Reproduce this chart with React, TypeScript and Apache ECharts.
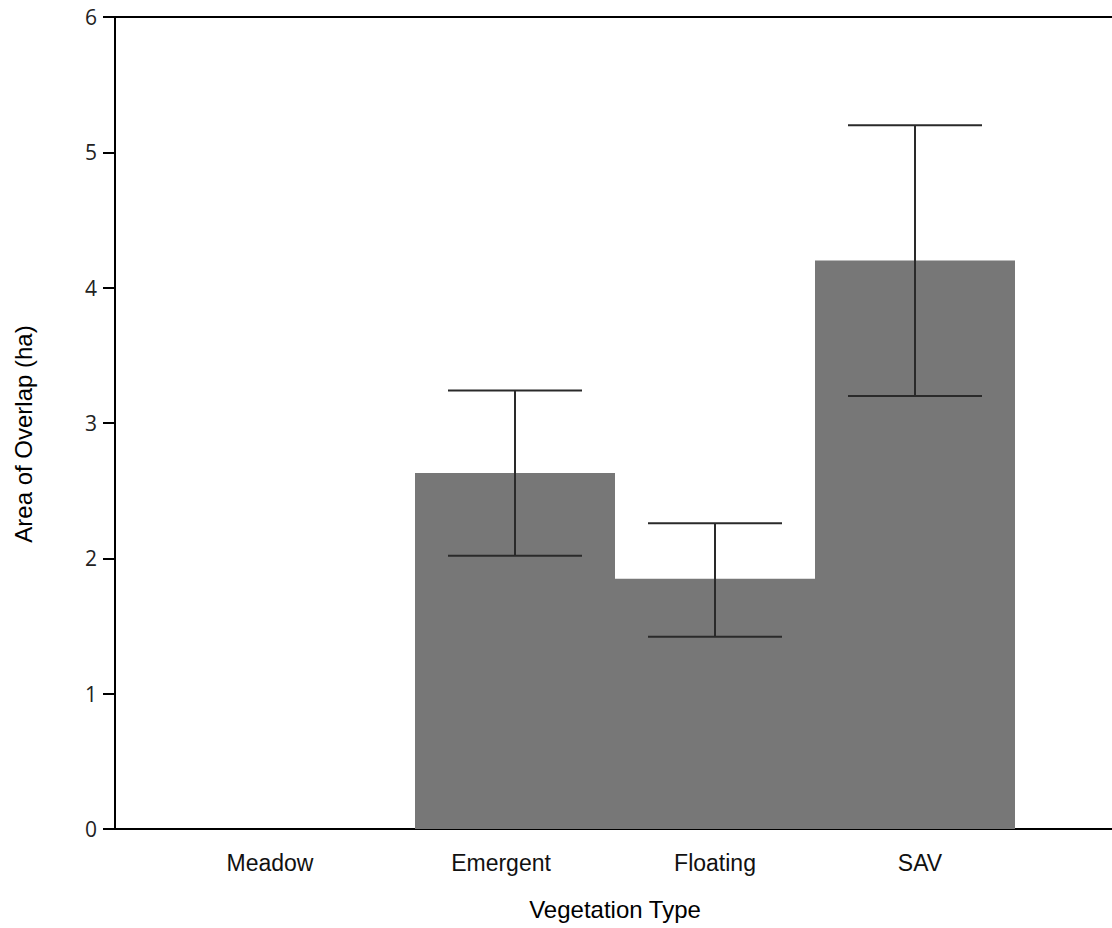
import React, { useEffect, useRef } from "react";
import * as echarts from "echarts";

const categories = ["Meadow", "Emergent", "Floating", "SAV"];
const categoryPositions = [1, 2, 3, 4];
const meanArea = [0, 2.63, 1.85, 4.2];
const lowerBound = [null, 2.02, 1.42, 3.2];
const upperBound = [null, 3.24, 2.26, 5.2];
const yTicks = [0, 1, 2, 3, 4, 5, 6];
// horizontal label nudges (px) to match the reference layout
const labelShift = [-45, -14, 0, 5];

export default function App() {
  const ref = useRef<HTMLDivElement>(null);
  useEffect(() => {
    if (!ref.current) return;
    const chart = echarts.init(ref.current, undefined, { renderer: "svg" });
    const rich: Record<string, any> = {};
    categories.forEach((c, i) => {
      const s = labelShift[i];
      rich["c" + i] = {
        fontSize: 23,
        fontFamily: "Liberation Sans",
        color: "#111",
        padding: s < 0 ? [0, -2 * s, 0, 0] : [0, 0, 0, 2 * s],
      };
    });
    const barData = categoryPositions.map((x, i) => [x, meanArea[i]]);
    const errData = categoryPositions
      .map((x, i) => [x, lowerBound[i], upperBound[i]])
      .filter((d) => d[1] != null);
    chart.setOption({
      animation: false,
      grid: { left: 115, top: 17, width: 1000, height: 812 },
      xAxis: [
        {
          type: "value",
          min: 0,
          max: 5,
          interval: 1,
          position: "bottom",
          splitLine: { show: false },
          axisTick: { show: false },
          axisLine: { show: true, lineStyle: { color: "#000", width: 2 } },
          axisLabel: {
            margin: 22,
            formatter: (v: number) => {
              const i = categoryPositions.indexOf(v);
              return i >= 0 ? `{c${i}|${categories[i]}}` : "";
            },
            rich,
          },
          name: "Vegetation Type",
          nameLocation: "middle",
          nameGap: 68,
          nameTextStyle: { fontSize: 24, fontFamily: "Liberation Sans", color: "#000" },
        },
        {
          type: "value",
          min: 0,
          max: 5,
          position: "top",
          splitLine: { show: false },
          axisTick: { show: false },
          axisLabel: { show: false },
          axisLine: { show: true, lineStyle: { color: "#000", width: 2 } },
        },
      ],
      yAxis: {
        type: "value",
        min: yTicks[0],
        max: yTicks[yTicks.length - 1],
        interval: 1,
        splitLine: { show: false },
        axisLine: { show: true, lineStyle: { color: "#000", width: 2 } },
        axisTick: { show: true, length: 12, lineStyle: { color: "#000", width: 2 } },
        axisLabel: { fontSize: 21, fontFamily: "Open Sans", color: "#222", margin: 18 },
        name: "Area of Overlap (ha)",
        nameLocation: "middle",
        nameGap: 80,
        nameTextStyle: {
          fontSize: 24,
          fontFamily: "Liberation Sans",
          color: "#000",
          padding: [0, 22, 0, 0],
        },
      },
      series: [
        {
          type: "bar",
          xAxisIndex: 0,
          data: barData,
          barWidth: 200,
          itemStyle: { color: "#777777" },
        },
        {
          type: "custom",
          xAxisIndex: 0,
          data: errData,
          z: 5,
          renderItem: (params: any, api: any) => {
            const x = api.value(0);
            const lo = api.coord([x, api.value(1)]);
            const hi = api.coord([x, api.value(2)]);
            const half = api.size([1, 0])[0] * 0.335;
            const style = { stroke: "#2a2a2a", lineWidth: 2 };
            return {
              type: "group",
              children: [
                { type: "line", shape: { x1: hi[0], y1: hi[1], x2: lo[0], y2: lo[1] }, style },
                { type: "line", shape: { x1: hi[0] - half, y1: hi[1], x2: hi[0] + half, y2: hi[1] }, style },
                { type: "line", shape: { x1: lo[0] - half, y1: lo[1], x2: lo[0] + half, y2: lo[1] }, style },
              ],
            };
          },
        },
      ],
    });
    return () => chart.dispose();
  }, []);
  return (
    <div
      style={{
        position: "fixed",
        left: 0,
        top: 0,
        width: 1112,
        height: 928,
        overflow: "hidden",
        background: "#fff",
      }}
    >
      <div ref={ref} style={{ width: 1140, height: 928 }} />
    </div>
  );
}
